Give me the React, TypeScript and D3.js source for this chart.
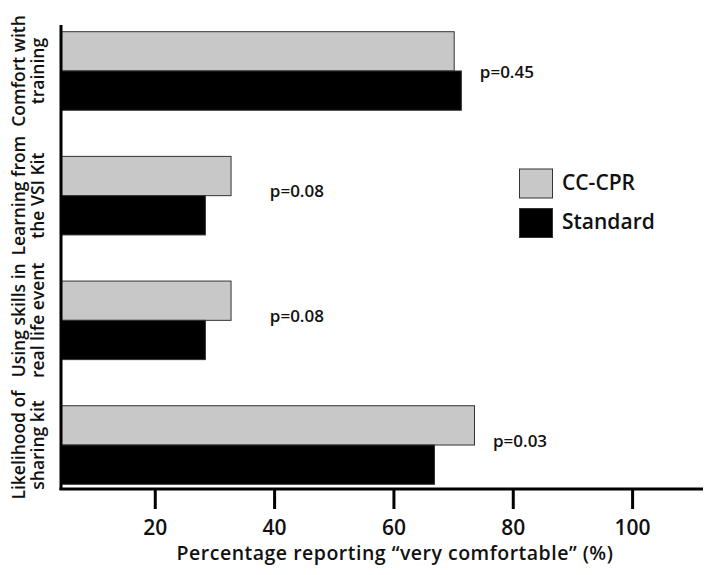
import React from "react";
import * as d3 from "d3";

const categories = ["Comfort with training", "Learning from the VSI Kit", "Using skills in real life event", "Likelihood of sharing kit"];
const categoryLines = [["Comfort with", "training"], ["Learning from", "the VSI Kit"], ["Using skills in", "real life event"], ["Likelihood of", "sharing kit"]];
const ccCpr = [70.1, 32.7, 32.7, 73.5];
const standard = [71.3, 28.4, 28.4, 66.8];
const pValues = ["p=0.45", "p=0.08", "p=0.08", "p=0.03"];
const pAnchor = [74.4, 39.2, 39.2, 76.6];
const xTicks = [20, 40, 60, 80, 100];
const seriesNames = ["CC-CPR", "Standard"];
const seriesColors = ["#c8c8c8", "#000000"];

const W = 714;
const H = 575;
const FONT = "'Open Sans', 'DejaVu Sans', sans-serif";

export default function App() {
  const x = d3.scaleLinear().domain([4.2, 111.8]).range([61, 703]);
  const y = d3.scaleBand<string>().domain(categories).range([31.7, 484.3]).paddingInner(0.37).paddingOuter(0);
  const sub = d3.scaleBand<string>().domain(seriesNames).range([0, y.bandwidth()]).padding(0);
  const series = [ccCpr, standard];
  const x0 = x.domain()[0];

  return (
    <svg width={W} height={H} style={{ position: "absolute", left: 0, top: 0, background: "#fff" }} fontFamily={FONT}>
      <rect x={0} y={0} width={W} height={H} fill="#fff" />
      {categories.map((c, i) => (
        <g key={c}>
          {series.map((vals, s) => (
            <rect
              key={s}
              x={x(x0)}
              y={(y(c) as number) + (sub(seriesNames[s]) as number)}
              width={x(vals[i]) - x(x0)}
              height={sub.bandwidth()}
              fill={seriesColors[s]}
              stroke="#333"
              strokeWidth={1}
            />
          ))}
          <text
            x={x(pAnchor[i])}
            y={(y(c) as number) + y.bandwidth() / 2 + (i === 0 ? 2 : -3)}
            dominantBaseline="middle"
            fontSize={17}
            fontWeight={600}
            fill="#111"
          >
            {pValues[i]}
          </text>
          <g transform={`translate(0, ${(y(c) as number) + y.bandwidth() / 2}) rotate(-90)`}>
            {categoryLines[i].map((ln, k) => (
              <text key={k} x={0} y={25 + k * 19} textAnchor="middle" fontSize={17.5} fontWeight={600} fill="#111">
                {ln}
              </text>
            ))}
          </g>
        </g>
      ))}
      <line x1={61} x2={61} y1={25} y2={490} stroke="#000" strokeWidth={3} />
      <line x1={59.5} x2={x(x.domain()[1])} y1={489} y2={489} stroke="#000" strokeWidth={3} />
      {xTicks.map((t) => (
        <g key={t}>
          <line x1={x(t)} x2={x(t)} y1={489} y2={509} stroke="#000" strokeWidth={3} />
          <text x={x(t)} y={535} textAnchor="middle" fontSize={21} fontWeight={600} fill="#111">
            {t}
          </text>
        </g>
      ))}
      <text x={395} y={560} textAnchor="middle" fontSize={19.5} fontWeight={600} letterSpacing={0.5} fill="#111">
        Percentage reporting “very comfortable” (%)
      </text>
      {seriesNames.map((n, s) => (
        <g key={n}>
          <rect x={519.5} y={169 + s * 39.5} width={33} height={29} fill={seriesColors[s]} stroke="#333" strokeWidth={1} />
          <text x={562} y={184 + s * 39.5} dominantBaseline="middle" fontSize={21} fontWeight={600} fill="#111">
            {n}
          </text>
        </g>
      ))}
    </svg>
  );
}
